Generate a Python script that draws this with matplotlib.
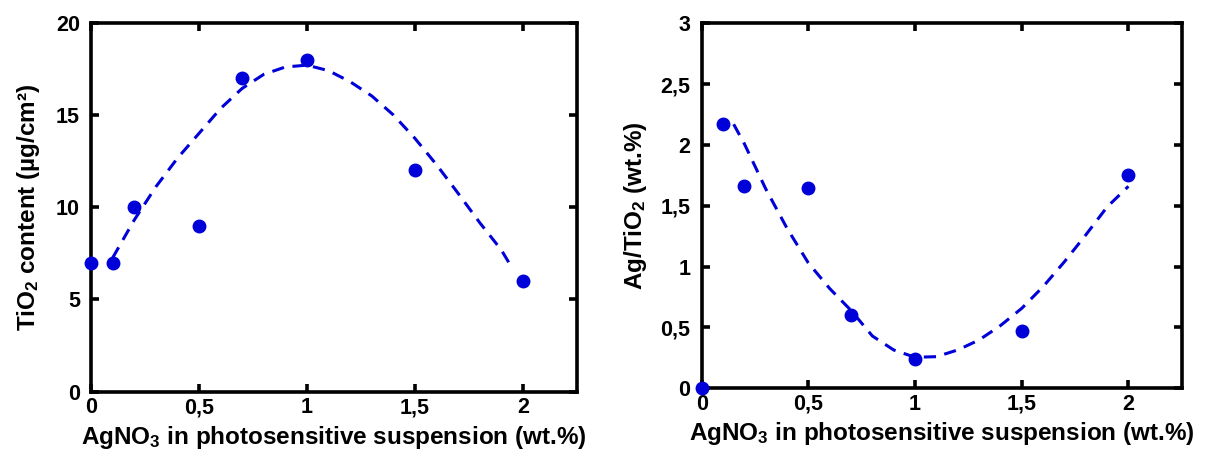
import matplotlib
matplotlib.use("Agg")
import matplotlib.pyplot as plt

plt.rcParams['font.family'] = ['Liberation Sans', 'DejaVu Sans']
plt.rcParams['font.weight'] = 'bold'
plt.rcParams['mathtext.fontset'] = 'custom'
plt.rcParams['mathtext.rm'] = 'Liberation Sans:bold'
plt.rcParams['mathtext.bf'] = 'Liberation Sans:bold'
plt.rcParams['mathtext.default'] = 'bf'

# ---- data ----
agno3 = [0, 0.1, 0.2, 0.5, 0.7, 1.0, 1.5, 2.0]
tio2_content = [7, 7, 10, 9, 17, 18, 12, 6]
ag_tio2 = [0.0, 2.17, 1.66, 1.65, 0.60, 0.24, 0.47, 1.75]

# fitted trend curves
fit1_x = [0.1, 0.2, 0.3, 0.4, 0.5, 0.6, 0.7, 0.8, 0.9, 1.0, 1.1, 1.2, 1.3, 1.4, 1.5, 1.6, 1.7, 1.8, 1.9, 1.95]
fit1_y = [7.25, 9.3, 11.1, 12.65, 14.0, 15.35, 16.44, 17.2, 17.6, 17.7, 17.4, 16.8, 16.03, 15.0, 13.73, 12.3, 10.75, 9.16, 7.68, 6.7]
fit2_x = [0.15, 0.2, 0.3, 0.4, 0.5, 0.6, 0.7, 0.8, 0.9, 1.0, 1.1, 1.2, 1.3, 1.4, 1.5, 1.6, 1.7, 1.8, 1.9, 2.0]
fit2_y = [2.17, 2.01, 1.64, 1.315, 1.03, 0.82, 0.64, 0.43, 0.315, 0.255, 0.26, 0.315, 0.397, 0.515, 0.657, 0.835, 1.04, 1.26, 1.49, 1.66]

xticks = [0, 0.5, 1, 1.5, 2]
xticklabels = ['0', '0,5', '1', '1,5', '2']
y1ticks = [0, 5, 10, 15, 20]
y1ticklabels = ['0', '5', '10', '15', '20']
y2ticks = [0, 0.5, 1, 1.5, 2, 2.5, 3]
y2ticklabels = ['0', '0,5', '1', '1,5', '2', '2,5', '3']

blue = '#0000d8'

fig = plt.figure(figsize=(12.05, 4.54), dpi=100)
ax1 = fig.add_axes([0.0755, 0.1372, 0.4033, 0.8128])
ax2 = fig.add_axes([0.5823, 0.1447, 0.3984, 0.8040])


def style(ax):
    for s in ax.spines.values():
        s.set_linewidth(2.6)
    ax.tick_params(direction='in', length=6, width=2.6, top=True, right=True,
                   labelsize=15.5)
    ax.tick_params(axis='x', pad=4)
    ax.tick_params(axis='y', pad=8)
    for lab in ax.get_xticklabels() + ax.get_yticklabels():
        lab.set_fontweight('bold')


xlabel = r'AgNO$_3$ in photosensitive suspension (wt.%)'

ax1.plot(fit1_x, fit1_y, color=blue, lw=2.2, dashes=(4, 2.8))
ax1.plot(agno3, tio2_content, 'o', color=blue, ms=9, clip_on=False, zorder=5)
ax1.set_xlim(0, 2.25)
ax1.set_ylim(0, 20)
ax1.set_xticks(xticks)
ax1.set_xticklabels(xticklabels)
ax1.set_yticks(y1ticks)
ax1.set_yticklabels(y1ticklabels)
ax1.set_xlabel(xlabel, fontsize=17.5, fontweight='bold', labelpad=4)
ax1.set_ylabel(r'TiO$_2$ content (µg/cm²)', fontsize=17.5, fontweight='bold', labelpad=10)
style(ax1)

ax2.plot(fit2_x, fit2_y, color=blue, lw=2.2, dashes=(4, 2.8))
ax2.plot(agno3, ag_tio2, 'o', color=blue, ms=9, clip_on=False, zorder=5)
ax2.set_xlim(0, 2.25)
ax2.set_ylim(0, 3)
ax2.set_xticks(xticks)
ax2.set_xticklabels(xticklabels)
ax2.set_yticks(y2ticks)
ax2.set_yticklabels(y2ticklabels)
ax2.set_xlabel(xlabel, fontsize=17.5, fontweight='bold', labelpad=4)
ax2.set_ylabel(r'Ag/TiO$_2$ (wt.%)', fontsize=17.5, fontweight='bold', labelpad=8)
style(ax2)

fig.savefig('out.png', dpi=100)
